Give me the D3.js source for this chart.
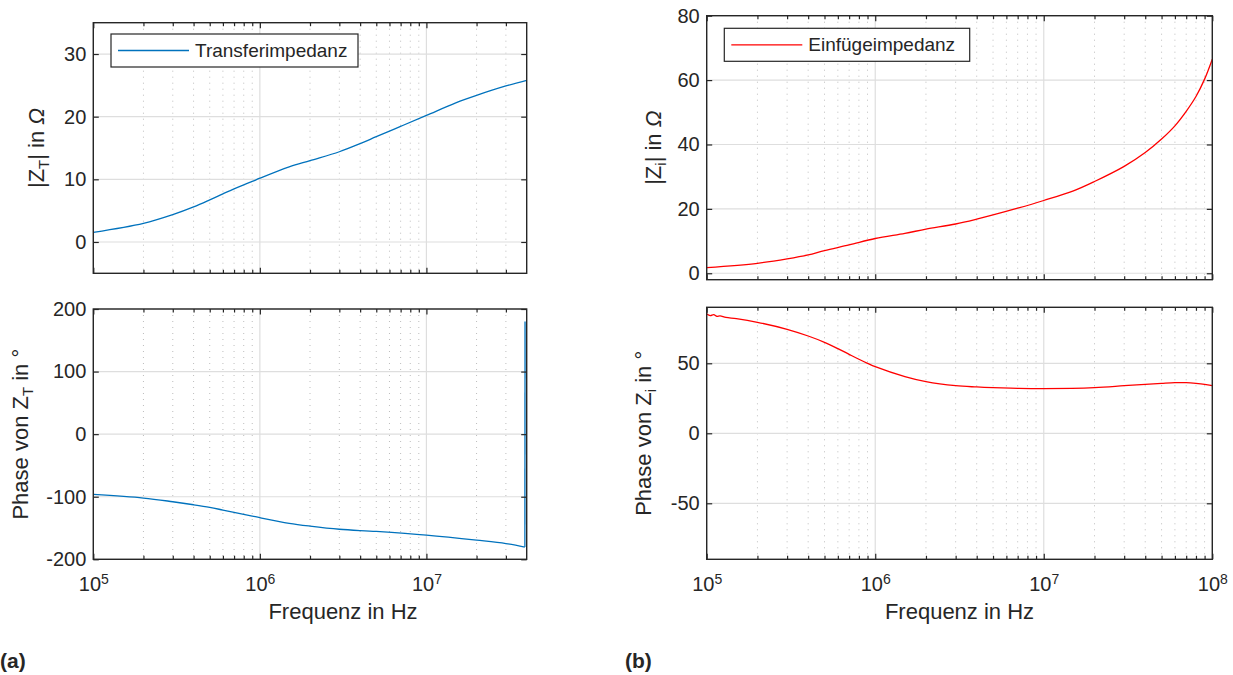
<!DOCTYPE html>
<html><head><meta charset="utf-8">
<script src="https://cdn.jsdelivr.net/npm/d3@7"></script>
<style>
body{margin:0;background:#fff}
svg{display:block}
text{font-family:"Liberation Sans",Arial,Helvetica,sans-serif;fill:#262626}
</style>
</head><body>
<svg id="c" width="1233" height="675"></svg>
<script>
// ---- data ----
const freqMagT = [1e5,2e5,3e5,4e5,5e5,6e5,7e5,8e5,9e5,1e6,1.5e6,2e6,3e6,4e6,5e6,7e6,1e7,1.5e7,2e7,3e7,4e7];
const magT     = [1.54,2.98,4.37,5.6,6.72,7.69,8.49,9.13,9.66,10.18,12.0,13.0,14.4,15.7,16.8,18.45,20.2,22.2,23.4,24.9,25.8];

const freqPhT = [1e5,2e5,3e5,4e5,5e5,6e5,7e5,8e5,9e5,1e6,1.5e6,2e6,3e6,5e6,1e7,2e7,3e7,3.9e7,3.91e7];
const phaseT  = [-96.3,-102.1,-108,-112.8,-117,-121.3,-125,-128.2,-130.9,-133.5,-142.5,-147,-152,-155.5,-161.4,-169.4,-174.8,-180.5,180];

const freqMagI = [1e5,2e5,3e5,4e5,5e5,7e5,1e6,1.5e6,2e6,3e6,4e6,5e6,7e6,1e7,1.5e7,2e7,3e7,4e7,5e7,6e7,7e7,8e7,9e7,1e8];
const magI     = [1.76,3.1,4.46,5.7,7.05,8.8,10.8,12.4,13.7,15.3,16.8,18.1,20.2,22.6,25.6,28.5,33.2,37.5,41.7,45.8,50.3,54.9,60.3,66.5];

const freqPhI = [1e5,1.05e5,1.1e5,1.15e5,1.2e5,1.3e5,1.5e5,2e5,3e5,4e5,5e5,6e5,7e5,8e5,9e5,1e6,1.5e6,2e6,3e6,4e6,5e6,7e6,1e7,2e7,3e7,4e7,5e7,6e7,7e7,8e7,9e7,1e8];
const phaseI  = [85.2,84.1,84.8,83.6,83.9,82.8,81.9,79.3,74.3,69.5,65,60.5,56.4,52.9,50,47.6,40.5,36.9,34,33.1,32.6,32.1,31.9,32.6,34,35,35.7,36.2,36.2,35.7,35,34];

const yTicksMagT = [0,10,20,30];
const yTicksPhT  = [-200,-100,0,100,200];
const yTicksMagI = [0,20,40,60,80];
const yTicksPhI  = [-50,0,50];
const xDecadesL = [1e5,1e6,1e7];
const xDecadesR = [1e5,1e6,1e7,1e8];
const legendT = "Transferimpedanz";
const legendI = "Einfügeimpedanz";
const xLabel = "Frequenz in Hz";

// ---- drawing ----
const svg = d3.select("#c");
const INK = "#262626";
const fmt = d => String(d); // plain hyphen-minus like the reference

function minorTicks(lo, hi){
  const out=[];
  for(let e=Math.floor(Math.log10(lo)); e<=Math.ceil(Math.log10(hi)); e++){
    for(let m=2;m<=9;m++){const v=m*Math.pow(10,e); if(v>lo && v<hi) out.push(v);}
  }
  return out;
}

function panel(o){
  const g = svg.append("g");
  const x = d3.scaleLog().domain(o.xdom).range([o.x0,o.x1]);
  const y = d3.scaleLinear().domain(o.ydom).range([o.y1,o.y0]);
  const minors = minorTicks(o.xdom[0], o.xdom[1]);
  const decs = o.decades.filter(d=>d>=o.xdom[0]&&d<=o.xdom[1]);
  // grid
  g.append("g").selectAll("line").data(minors).join("line")
    .attr("x1",d=>x(d)).attr("x2",d=>x(d)).attr("y1",o.y0).attr("y2",o.y1)
    .attr("stroke","#bdbdbd").attr("stroke-width",1).attr("stroke-dasharray","1,5");
  g.append("g").selectAll("line").data(decs).join("line")
    .attr("x1",d=>x(d)).attr("x2",d=>x(d)).attr("y1",o.y0).attr("y2",o.y1)
    .attr("stroke","#dedede").attr("stroke-width",1.2);
  g.append("g").selectAll("line").data(o.yticks).join("line")
    .attr("x1",o.x0).attr("x2",o.x1).attr("y1",d=>y(d)).attr("y2",d=>y(d))
    .attr("stroke","#dedede").attr("stroke-width",1.2);
  // data line
  const clipId = "clip"+o.id;
  svg.append("clipPath").attr("id",clipId).append("rect")
    .attr("x",o.x0).attr("y",o.y0).attr("width",o.x1-o.x0).attr("height",o.y1-o.y0);
  const pts = o.fx.map((f,i)=>[f,o.vy[i]]);
  const line = d3.line().x(d=>x(d[0])).y(d=>y(d[1])).curve(d3.curveCatmullRom.alpha(0.5));
  if(o.jumpAtEnd){
    const main = pts.slice(0,-1);
    g.append("path").datum(main).attr("clip-path",`url(#${clipId})`)
      .attr("fill","none").attr("stroke",o.color).attr("stroke-width",1.3).attr("d",line);
    g.append("path").datum(pts.slice(-2)).attr("clip-path",`url(#${clipId})`)
      .attr("fill","none").attr("stroke",o.color).attr("stroke-width",1.3)
      .attr("d",d3.line().x(d=>x(d[0])).y(d=>y(d[1])));
  } else {
    g.append("path").datum(pts).attr("clip-path",`url(#${clipId})`)
      .attr("fill","none").attr("stroke",o.color).attr("stroke-width",1.3).attr("d",line);
  }
  // axes (ticks inside)
  const styleAx = sel=>{sel.select(".domain").remove(); sel.selectAll("line").attr("stroke",INK).attr("stroke-width",1.2);
    sel.selectAll("text").attr("fill",INK).attr("font-size",20).attr("font-family",null);};
  g.append("g").attr("transform",`translate(${o.x0},0)`)
    .call(d3.axisLeft(y).tickValues(o.yticks).tickSize(-5.5).tickPadding(7).tickFormat(fmt)).call(styleAx);
  g.append("g").attr("transform",`translate(${o.x1},0)`)
    .call(d3.axisRight(y).tickValues(o.yticks).tickSize(-5.5).tickFormat("")).call(styleAx);
  g.append("g").attr("transform",`translate(0,${o.y0})`)
    .call(d3.axisTop(x).tickValues(decs).tickSize(-5.5).tickFormat("")).call(styleAx);
  g.append("g").attr("transform",`translate(0,${o.y0})`)
    .call(d3.axisTop(x).tickValues(minors).tickSize(-3.5).tickFormat("")).call(styleAx);
  g.append("g").attr("transform",`translate(0,${o.y1})`)
    .call(d3.axisBottom(x).tickValues(minors).tickSize(-3.5).tickFormat("")).call(styleAx);
  const bx = g.append("g").attr("transform",`translate(0,${o.y1})`)
    .call(d3.axisBottom(x).tickValues(decs).tickSize(-5.5).tickPadding(18).tickFormat(o.xlabels?(d=>"x"):"")).call(styleAx);
  if(o.xlabels){
    bx.selectAll("text").each(function(d){
      const t=d3.select(this); t.text(null);
      t.append("tspan").text("10");
      t.append("tspan").attr("dy",-7).attr("font-size",14).text(Math.round(Math.log10(d)));
    });
  }
  // box
  g.append("rect").attr("x",o.x0).attr("y",o.y0).attr("width",o.x1-o.x0).attr("height",o.y1-o.y0)
    .attr("fill","none").attr("stroke",INK).attr("stroke-width",1.4);
  // y label
  const yl = svg.append("text").attr("transform",`translate(${o.ylx},${(o.y0+o.y1)/2}) rotate(-90)`)
    .attr("text-anchor","middle").attr("font-size",22);
  o.ylabel.forEach(p=>{
    const ts = yl.append("tspan").text(p.t);
    if(p.sub){ts.attr("dy",5).attr("font-size",15);} 
    if(p.back){ts.attr("dy",-5);}
    if(p.it){ts.attr("font-style","italic");}
  });
  // x label
  if(o.xlabels){
    svg.append("text").attr("x",o.xlx).attr("y",619).attr("text-anchor","middle")
      .attr("font-size",22).text(xLabel);
  }
  // legend
  if(o.legend){
    const L=o.legend;
    const lg = svg.append("g");
    lg.append("rect").attr("x",L.x).attr("y",L.y).attr("width",L.w).attr("height",33)
      .attr("fill","#fff").attr("stroke",INK).attr("stroke-width",1.2);
    lg.append("line").attr("x1",L.x+7).attr("x2",L.x+78).attr("y1",L.y+16.5).attr("y2",L.y+16.5)
      .attr("stroke",o.color).attr("stroke-width",1.3);
    lg.append("text").attr("x",L.x+84).attr("y",L.y+23).attr("font-size",19).text(L.text);
  }
}

panel({id:1,x0:93.3,x1:526.7,y0:22.7,y1:273.3,xdom:[1e5,4e7],ydom:[-5,35],decades:xDecadesL,yticks:yTicksMagT,
  fx:freqMagT,vy:magT,color:"#0072BD",xlabels:false,ylx:44,
  ylabel:[{t:"|Z"},{t:"T",sub:true},{t:"| in ",back:true},{t:"Ω",it:true}],
  legend:{x:111,y:34,w:247,text:legendT}});
panel({id:2,x0:93.3,x1:526.7,y0:309,y1:559.3,xdom:[1e5,4e7],ydom:[-200,200],decades:xDecadesL,yticks:yTicksPhT,
  fx:freqPhT,vy:phaseT,color:"#0072BD",xlabels:true,xlx:343,ylx:27.5,jumpAtEnd:true,
  ylabel:[{t:"Phase von Z"},{t:"T",sub:true},{t:" in °",back:true}]});
panel({id:3,x0:706.7,x1:1212.3,y0:15.7,y1:279.7,xdom:[1e5,1e8],ydom:[-2,80],decades:xDecadesR,yticks:yTicksMagI,
  fx:freqMagI,vy:magI,color:"#FF0000",xlabels:false,ylx:661,
  ylabel:[{t:"|Z"},{t:"i",sub:true},{t:"| in ",back:true},{t:"Ω",it:true}],
  legend:{x:724.3,y:28.3,w:245.4,text:legendI}});
panel({id:4,x0:706.7,x1:1212.3,y0:307.3,y1:559.3,xdom:[1e5,1e8],ydom:[-90,90],decades:xDecadesR,yticks:yTicksPhI,
  fx:freqPhI,vy:phaseI,color:"#FF0000",xlabels:true,xlx:959.5,ylx:651,
  ylabel:[{t:"Phase von Z"},{t:"i",sub:true},{t:" in °",back:true}]});

svg.append("text").attr("x",0).attr("y",668).attr("font-size",21).attr("font-weight","bold").text("(a)");
svg.append("text").attr("x",625).attr("y",668).attr("font-size",21).attr("font-weight","bold").text("(b)");
</script>
</body></html>
